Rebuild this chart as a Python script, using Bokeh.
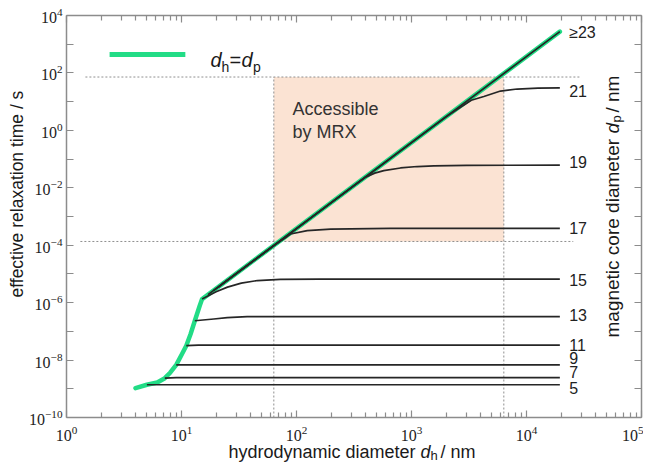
import math
from bokeh.plotting import figure
from bokeh.layouts import column
from bokeh.models import LogAxis, FixedTicker, Label, Title
from bokeh.embed import file_html
from bokeh.resources import INLINE

# ---------------- data ----------------
# d_h = d_p curve (green)
green_dh  = [3.98, 5.0, 6.15, 7.16, 8.0, 9.0, 10.1, 11.0, 12.0, 13.06, 14.4, 15.1, 19500]
green_tau = [1.05e-9, 1.38e-9, 1.66e-9, 2.34e-9, 3.7e-9, 6.8e-9, 1.62e-8, 3.16e-8,
             8.1e-8, 2.34e-7, 7.8e-7, 1.33e-6, 2.75e3]

# effective relaxation time for fixed magnetic core diameter d_p (black)
dp5_dh,  dp5_tau  = [5.0, 19500], [1.38e-9, 1.38e-9]
dp7_dh,  dp7_tau  = [7.16, 9.0, 19500], [2.34e-9, 2.45e-9, 2.45e-9]
dp9_dh,  dp9_tau  = [9.0, 19500], [6.8e-9, 6.8e-9]
dp11_dh, dp11_tau = [11.0, 14.0, 19500], [3.16e-8, 3.3e-8, 3.3e-8]
dp13_dh, dp13_tau = [13.06, 19.1, 25.0, 37.2, 19500], [2.34e-7, 2.69e-7, 3.0e-7, 3.24e-7, 3.24e-7]
dp15_dh, dp15_tau = ([15.1, 20.0, 25.1, 33.1, 45.7, 72.4, 158, 19500],
                     [1.33e-6, 2.4e-6, 3.47e-6, 4.79e-6, 5.89e-6, 6.46e-6, 6.6e-6, 6.6e-6])
dp17_dh, dp17_tau = ([17, 63.1, 79.4, 88.7, 124, 198, 656, 19500],
                     [1.9e-6, 9.5e-5, 1.78e-4, 2.45e-4, 3.24e-4, 3.63e-4, 3.85e-4, 3.85e-4])
dp19_dh, dp19_tau = ([19, 398, 479, 574, 802, 1122, 1563, 3020, 19500],
                     [2.64e-6, 2.34e-2, 3.24e-2, 3.98e-2, 4.9e-2, 5.5e-2, 5.75e-2, 6.03e-2, 6.17e-2])
dp21_dh, dp21_tau = ([21, 2000, 2667, 3311, 4256, 5943, 8299, 12589, 19500],
                     [3.5e-6, 2.98, 6.3, 11.2, 15.1, 23.4, 27.5, 29.5, 30.2])
dp23_dh, dp23_tau = [23, 19500], [4.7e-6, 2.75e3]

curve_labels = ["5", "7", "9", "11", "13", "15", "17", "19", "21", "\u226523"]

# region accessible by MRX
mrx_dh  = [63.5, 6350]
mrx_tau = [1.35e-4, 72]

# axis ticks
x_major = [1e0, 1e1, 1e2, 1e3, 1e4, 1e5]
x_minor = [k * 10.0 ** e for e in range(0, 5) for k in range(2, 10)]
y_major = [1e-10, 1e-8, 1e-6, 1e-4, 1e-2, 1e0, 1e2, 1e4]
y_minor = [1e-9, 1e-7, 1e-5, 1e-3, 1e-1, 1e1, 1e3]

# ---------------- styling ----------------
GREEN = "#22dc86"
BLACK = "#262626"
FRAME = "#8c8c8c"
DOT = "#8f8f8f"
SANS = "Liberation Sans"
SERIF = "Liberation Serif"
W = 643
BL, BR = 66, 2

p = figure(width=W, height=443, x_axis_type="log", y_axis_type="log",
           x_range=(1, 1e5), y_range=(1e-10, 1e4),
           output_backend="svg", toolbar_location=None,
           min_border_left=BL, min_border_right=BR, min_border_top=15, min_border_bottom=26)
p.grid.visible = False
p.outline_line_color = None
p.background_fill_color = "white"


def style_axis(ax, labels, minor_len):
    ax.axis_line_color = FRAME
    ax.axis_line_width = 1.5
    ax.major_tick_line_color = FRAME
    ax.minor_tick_line_color = FRAME
    ax.major_tick_line_width = 1.2
    ax.minor_tick_line_width = 1.2
    ax.major_tick_in = 7
    ax.major_tick_out = 0
    ax.minor_tick_in = minor_len
    ax.minor_tick_out = 0
    if labels:
        ax.major_label_text_font = SERIF
        ax.major_label_text_font_size = "16px"
        ax.major_label_text_color = "#222222"
    else:
        ax.major_label_text_font_size = "1px"
        ax.major_label_text_color = None
        ax.major_label_standoff = 0


p.xaxis[0].ticker = FixedTicker(ticks=x_major, minor_ticks=x_minor)
p.yaxis[0].ticker = FixedTicker(ticks=y_major, minor_ticks=y_minor)
style_axis(p.xaxis[0], True, 5)
style_axis(p.yaxis[0], True, 7)
p.xaxis[0].major_label_standoff = 8
p.yaxis[0].major_label_standoff = 4

# y axis title as a side title (can be shifted along the axis)
p.add_layout(Title(text="effective relaxation time / s", align="left", offset=120,
                   standoff=0, text_font=SANS, text_font_size="17.5px",
                   text_font_style="normal", text_color="#1a1a1a"), "left")

top = LogAxis(ticker=FixedTicker(ticks=x_major, minor_ticks=x_minor))
style_axis(top, False, 5)
p.add_layout(top, "above")
right = LogAxis(ticker=FixedTicker(ticks=y_major, minor_ticks=y_minor))
style_axis(right, False, 7)
p.add_layout(right, "right")

# accessible region
p.quad(left=[mrx_dh[0]], right=[mrx_dh[1]], bottom=[mrx_tau[0]], top=[mrx_tau[1]],
       fill_color="#fbe3d3", line_color=None)
# dotted guide lines
p.line([1.46, 2.9e4], [mrx_tau[1], mrx_tau[1]], line_color=DOT, line_dash="2 2", line_width=1)
p.line([1.32, 2.55e4], [mrx_tau[0], mrx_tau[0]], line_color=DOT, line_dash="2 2", line_width=1)
p.line([mrx_dh[0], mrx_dh[0]], [1e-10, mrx_tau[1]], line_color=DOT, line_dash="2 2", line_width=1)
p.line([mrx_dh[1], mrx_dh[1]], [1e-10, mrx_tau[1]], line_color=DOT, line_dash="2 2", line_width=1)

# green d_h = d_p curve
p.line(green_dh, green_tau, line_color=GREEN, line_width=4.5, line_join="round", line_cap="round")

curves = [(dp5_dh, dp5_tau), (dp7_dh, dp7_tau), (dp9_dh, dp9_tau), (dp11_dh, dp11_tau),
          (dp13_dh, dp13_tau), (dp15_dh, dp15_tau), (dp17_dh, dp17_tau), (dp19_dh, dp19_tau),
          (dp21_dh, dp21_tau), (dp23_dh, dp23_tau)]
label_offsets = [-3, 6, 7, 0, 1.5, -1, 0, 2.6, -3.4, -1.3]
for (xs, ys), lab, off in zip(curves, curve_labels, label_offsets):
    p.line(xs, ys, line_color=BLACK, line_width=1.7, line_join="round")
    p.add_layout(Label(x=2.35e4, y=ys[-1], y_offset=off, text=lab, text_font=SANS,
                       text_font_size="16px", text_color="#222222",
                       text_align="left", text_baseline="middle"))

# legend line
p.line([2.37, 10.8], [434, 434], line_color=GREEN, line_width=5)


def txt(fig, x, y, s, size, style="normal", align="left", baseline="alphabetic", angle=0.0,
        units="screen"):
    fig.add_layout(Label(x=x, y=y, x_units=units, y_units=units, text=s,
                         text_font=SANS, text_font_size=size, text_font_style=style,
                         text_color="#1a1a1a", text_align=align, text_baseline=baseline,
                         angle=angle))


# legend text  d_h = d_p   (screen units relative to the frame)
txt(p, 144, 357.7, "d", "20px", "italic")
txt(p, 155, 350.7, "h", "14px")
txt(p, 163, 357.7, "=", "20px")
txt(p, 175, 357.7, "d", "20px", "italic")
txt(p, 186.5, 350.7, "p", "14px")

# "Accessible by MRX"
p.add_layout(Label(x=92.3, y=5.5, text="Accessible", text_font=SANS, text_font_size="18px",
                   text_color="#333333", text_baseline="middle"))
p.add_layout(Label(x=92.3, y=0.85, text="by MRX", text_font=SANS, text_font_size="18px",
                   text_color="#333333", text_baseline="middle"))

# right title (inside the frame)
rx, ry = 546, 80
a = math.pi / 2
txt(p, rx, ry, "magnetic core diameter ", "19px", angle=a)
txt(p, rx, ry + 204, "d", "19px", "italic", angle=a)
txt(p, rx + 4, ry + 215, "p", "13px", angle=a)
txt(p, rx, ry + 225, " / nm", "19px", angle=a)

# x axis title strip: same side borders as the main plot, data x = page pixel
p2 = figure(width=W, height=22, x_range=(BL, W - BR), y_range=(0, 22),
            output_backend="svg", toolbar_location=None,
            x_axis_location=None, y_axis_location=None,
            min_border_left=BL, min_border_right=BR, min_border_top=0, min_border_bottom=0)
p2.grid.visible = False
p2.outline_line_color = None
x0, yb = 228, 14
txt(p2, x0, yb, "hydrodynamic diameter ", "18px", units="data")
txt(p2, x0 + 192, yb, "d", "18px", "italic", units="data")
txt(p2, x0 + 202, yb - 4, "h", "13px", units="data")
txt(p2, x0 + 212, yb, " / nm", "18px", units="data")

layout = column(p, p2, spacing=0)
open("out.html", "w").write(file_html(layout, INLINE))
